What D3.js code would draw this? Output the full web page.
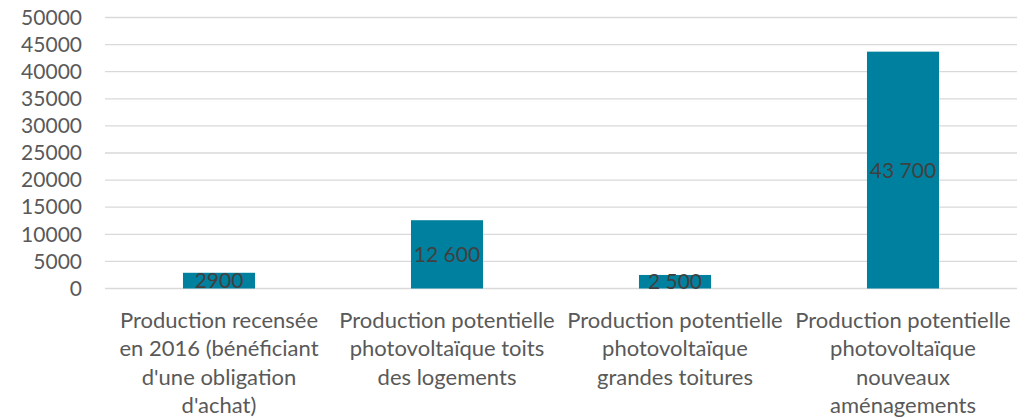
<!DOCTYPE html>
<html><head><meta charset="utf-8">
<script src="https://cdn.jsdelivr.net/npm/d3@7"></script>
<style>body{margin:0;background:#fff}svg{display:block}text{font-family:Lato,"Open Sans",sans-serif}</style>
</head><body><svg id="c" width="1034" height="418"></svg>
<script>
const categories = [
  "Production recensée\nen 2016 (bénéficiant\nd'une obligation\nd'achat)",
  "Production potentielle\nphotovoltaïque toits\ndes logements",
  "Production potentielle\nphotovoltaïque\ngrandes toitures",
  "Production potentielle\nphotovoltaïque\nnouveaux\naménagements"
];
const values = [2900, 12600, 2500, 43700];
const valueLabels = ["2900", "12 600", "2 500", "43 700"];
const yTicks = [0,5000,10000,15000,20000,25000,30000,35000,40000,45000,50000];

const svg = d3.select("#c");
const pLeft = 105, pRight = 1017, pTop = 17.5, pBottom = 288.5;
const x = d3.scaleBand().domain(categories).range([pLeft, pRight]).paddingInner(0.684).paddingOuter(0.342);
const y = d3.scaleLinear().domain([0, 50000]).range([pBottom, pTop]);

const fs = 21;
// gridlines
svg.append("g").selectAll("line").data(yTicks).join("line")
  .attr("x1", pLeft).attr("x2", pRight)
  .attr("y1", d => y(d)).attr("y2", d => y(d))
  .attr("stroke", "#d9d9d9").attr("stroke-width", 1.3);

// y axis labels
const yAxis = d3.axisLeft(y).tickValues(yTicks).tickSize(0).tickPadding(0).tickFormat(d3.format("d"));
const ga = svg.append("g").attr("transform", "translate(82,0)").call(yAxis);
ga.select(".domain").remove();
ga.selectAll("text").attr("fill", "#595959").style("font-size", fs + "px").style("font-family", "Lato");

// bars
svg.append("g").selectAll("rect").data(values).join("rect")
  .attr("x", (d, i) => x(categories[i]))
  .attr("width", x.bandwidth())
  .attr("y", d => y(d))
  .attr("height", d => y(0) - y(d))
  .attr("fill", "#00809F");

// data labels
svg.append("g").selectAll("text").data(values).join("text")
  .attr("x", (d, i) => x(categories[i]) + x.bandwidth() / 2)
  .attr("y", d => (y(d) + y(0)) / 2)
  .attr("dy", "0.36em")
  .attr("text-anchor", "middle")
  .attr("fill", "#404040")
  .style("font-size", fs + "px")
  .text((d, i) => valueLabels[i]);

// category labels
const cg = svg.append("g").selectAll("text").data(categories).join("text")
  .attr("text-anchor", "middle")
  .attr("fill", "#595959")
  .style("font-size", "22px")
  .attr("x", d => x(d) + x.bandwidth() / 2)
  .attr("y", 320);
cg.selectAll("tspan").data(d => d.split("\n")).join("tspan")
  .attr("x", function() { return this.parentNode.getAttribute("x"); })
  .attr("dy", (d, i) => i === 0 ? "0.36em" : "28.3px")
  .text(d => d);
</script></body></html>
